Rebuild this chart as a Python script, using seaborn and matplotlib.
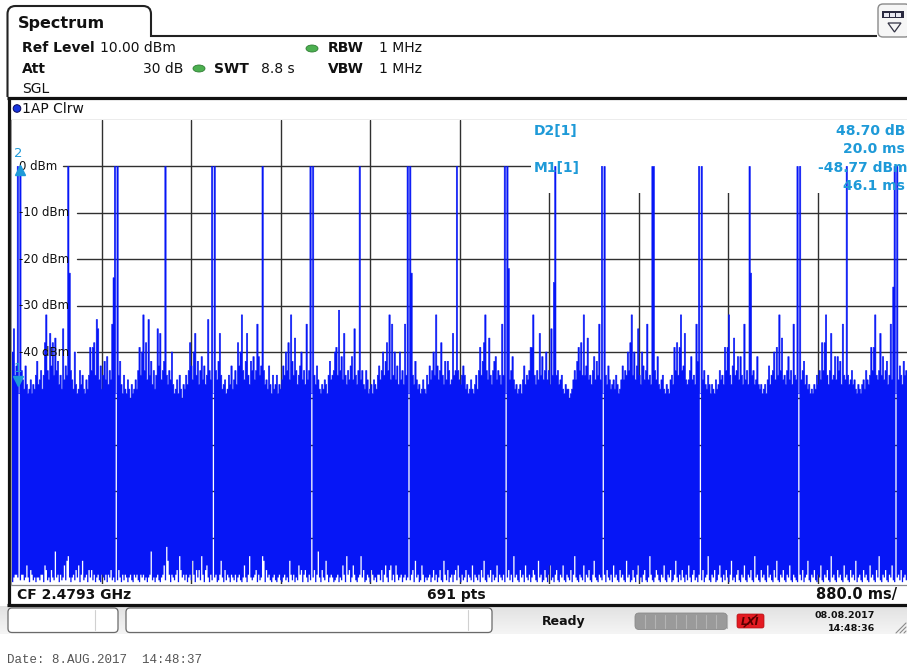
import numpy as np
import pandas as pd
import matplotlib
matplotlib.use("Agg")
import matplotlib.pyplot as plt
import seaborn as sns
from matplotlib.patches import Rectangle, FancyBboxPatch, Ellipse, Circle, PathPatch, Polygon
from matplotlib.path import Path
from matplotlib.transforms import ScaledTranslation, blended_transform_factory
from matplotlib.colors import LinearSegmentedColormap

# ---------------- data ----------------
SWEEP_MS = 8800          # SWT 8.8 s
N_PTS = 691
REF_LEVEL = 10           # dBm, top of the grid
BOTTOM_LEVEL = -90       # dBm, bottom of the grid
X_DIV_MS = 880           # 880.0 ms/div
grid_levels = [0, -10, -20, -30, -40, -50, -60, -70, -80]
tick_levels = [0, -10, -20, -30, -40]
tick_labels = ["0 dBm", "-10 dBm", "-20 dBm", "-30 dBm", "-40 dBm"]

# auto-peak trace: max and min level of each of the 691 sweep points (dBm)
trace_max = [
 -40,-35,-45,-43,0,-49,0,-44,-46,-48,-43,-47,-49,-48,-46,-49,-47,-48,-45,-42,
 -47,-46,-44,-48,-45,-38,-32,-44,-46,-36,-43,-38,-45,-37,-44,-42,-47,-45,-48,-35,
 -46,-43,-45,0,-23,-44,-46,-48,-40,-47,-49,-48,-44,-47,-45,-48,-49,-46,-48,-45,
 -39,-44,-39,-38,-45,-33,-35,-46,-43,-48,-45,-42,-46,-41,-47,-44,-46,-34,-24,0,
 -49,0,-45,-42,-47,-49,-45,-48,-49,-46,-48,-50,-47,-49,-48,-46,-48,-44,-39,-45,
 -40,-32,-44,-38,-46,-33,-45,-42,-47,-44,-48,-45,-35,-43,-36,-46,-44,-42,0,-45,
 -47,-44,-46,-40,-47,-49,-48,-46,-49,-45,-48,-50,-47,-48,-45,-47,-44,-38,-43,-46,
 -40,-36,-45,-42,-47,-44,-41,-46,-43,-47,-45,-33,-44,-46,0,-49,0,-44,-46,-42,
 -36,-45,-48,-47,-46,-49,-48,-45,-47,-43,-48,-46,-44,-47,-38,-43,-40,-32,-44,-46,
 -42,-36,-45,-47,-42,-44,-41,-46,-44,-34,-41,-45,-43,0,-44,-47,-46,-48,-43,-47,
 -49,-45,-48,-47,-45,-49,-47,-48,-46,-43,-45,-40,-44,-38,-46,-32,-42,-45,-37,-44,
 -47,-45,-43,-40,-46,-44,-47,-34,-46,-44,0,-49,0,-45,-47,-43,-46,-48,-49,-47,
 -48,-46,-47,-49,-45,-42,-46,-45,-44,-40,-39,-45,-31,-44,-41,-46,-36,-45,-47,-44,
 -46,-43,-41,-46,-35,-45,-47,-44,0,-46,-44,-47,-48,-44,-46,-49,-48,-47,-49,-46,
 -47,-48,-45,-43,-46,-44,-40,-45,-42,-38,-44,-32,-46,-34,-45,-40,-46,-43,-47,-40,
 -46,-44,-47,-34,-45,0,-49,0,-23,-45,-47,-42,-46,-48,-47,-49,-48,-46,-48,-49,
 -45,-47,-43,-46,-44,-40,-45,-32,-43,-46,-44,-38,-45,-47,-42,-46,-42,-44,-47,-46,
 -36,-45,-44,0,-44,-46,-47,-45,-43,-45,-48,-47,-49,-48,-46,-48,-49,-47,-45,-48,
 -44,-39,-45,-42,-38,-32,-44,-46,-37,-45,-47,-44,-42,-41,-46,-44,-45,-47,-34,-45,
 0,-49,0,-22,-46,-44,-41,-46,-48,-47,-49,-48,-47,-49,-46,-43,-47,-45,-46,-44,
 -39,-39,-32,-45,-47,-44,-46,-36,-45,-41,-46,-44,-40,-46,-44,-47,-35,-45,-25,0,
 -45,-44,-47,-46,-45,-48,-49,-47,-48,-48,-50,-49,-48,-46,-44,-46,-42,-39,-44,-38,
 -45,-32,-45,-43,-37,-46,-45,-47,-44,-41,-46,-42,-45,-34,-46,0,-49,0,-45,-47,
 -43,-46,-48,-47,-46,-48,-45,-47,-49,-48,-46,-43,-46,-44,-45,-40,-44,-38,-32,-45,
 -40,-46,-43,-35,-45,-47,-40,-43,-46,-44,-34,-46,-45,-47,0,0,-44,-46,-41,-47,
 -48,-46,-45,-48,-49,-47,-48,-49,-46,-45,-47,-39,-44,-38,-45,-39,-32,-44,-43,-36,
 -46,-47,-46,-44,-41,-46,-45,-47,-34,-42,0,-49,0,-46,-44,-47,-48,-45,-47,-49,
 -47,-48,-49,-46,-48,-47,-44,-46,-45,-47,-39,-44,-39,-32,-45,-47,-43,-37,-45,-44,
 -41,-46,-41,-45,-47,-34,-46,-44,-47,0,-23,-45,-44,-47,-46,-41,-47,-48,-47,-49,
 -48,-47,-49,-46,-43,-47,-45,-44,-40,-46,-39,-45,-32,-44,-37,-46,-45,-47,-44,-41,
 -46,-44,-47,-34,-45,-46,0,-49,0,-46,-44,-42,-47,-45,-48,-47,-49,-48,-49,-47,
 -48,-45,-47,-44,-46,-38,-44,-38,-32,-45,-47,-44,-36,-46,-45,-41,-46,-41,-44,-42,
 -47,-34,-45,-46,0,-45,-47,-46,-44,-47,-46,-48,-49,-47,-48,-49,-47,-46,-48,-44,
 -46,-47,-45,-39,-44,-39,-32,-45,-46,-44,-36,-45,-41,-46,-44,-42,-47,-45,-34,-46,
 -26,0,-49,0,-46,-43,-45,-47,-42,-45,-44,
]
trace_min = [
 -89.6,-88.6,-88,-88,-88.6,-49,-89.2,-88,-88,-89.2,-88.6,-86,-88.6,-89.6,-87,-88,-89.2,-88.6,-89.6,-88.6,
 -88.6,-89.2,-88,-88,-89.6,-86,-87,-89.2,-88.6,-89.6,-87,-88.6,-89.2,-83,-88.6,-88,-89.6,-88,-89.2,-88.6,
 -86,-89.2,-85,-84,-88.6,-89.6,-88.6,-88,-89.2,-87,-88.6,-86,-89.6,-88,-85,-89.2,-88.6,-88,-89.6,-87,
 -88.6,-87,-89.2,-88,-89.6,-88.6,-88,-89.2,-89.6,-88,-88.6,-89.2,-88,-89.6,-88,-88.6,-87,-89.2,-88.6,-89.6,
 -49,-89.2,-87,-88.6,-89.6,-88,-89.2,-88,-88.6,-89.6,-88.6,-88,-89.2,-89.6,-88,-88.6,-88,-89.2,-89.6,-88,
 -88.6,-88,-89.2,-88.6,-89.6,-88.6,-88,-83,-89.2,-88.6,-89.6,-88.6,-88,-89.2,-89.6,-88.6,-88,-86,-89.2,-82,
 -85,-88,-89.6,-88,-88.6,-89.2,-88,-87,-89.6,-84,-87,-88.6,-88,-89.2,-88,-89.6,-88.6,-88,-89.2,-85,
 -88,-89.6,-87,-88.6,-87,-89.2,-84,-88,-89.6,-87,-86,-88.6,-89.6,-88,-89.2,-49,-88.6,-88,-89.6,-89.2,
 -88,-85,-88.6,-89.6,-87,-89.2,-88,-88.6,-89.6,-88,-88.6,-89.2,-88,-89.6,-88.6,-88,-89.2,-89.6,-88.6,-86,
 -88.6,-89.6,-88,-84,-88.6,-89.2,-88.6,-88,-87,-89.6,-88,-89.2,-88.6,-84,-85,-89.6,-87,-88.6,-88,-89.2,
 -89.6,-88.6,-88,-89.2,-89.6,-88.6,-88,-89.2,-89.6,-88.6,-88,-89.2,-88.6,-89.6,-85,-88,-89.2,-88,-89.6,-88.6,
 -89.2,-86,-88,-87,-89.6,-88,-87,-88.6,-89.6,-88,-89.2,-49,-88.6,-87,-89.6,-88,-83,-88.6,-89.6,-87,
 -88.6,-89.2,-85,-88,-89.6,-88.6,-88,-88.6,-89.6,-89.2,-88.6,-88,-89.6,-88.6,-89.2,-86,-88,-89.6,-84,-88,
 -87,-89.6,-88.6,-86,-88,-89.2,-89.6,-88.6,-88,-84,-88.6,-87,-89.6,-89.2,-88,-88.6,-89.6,-87,-88,-89.2,
 -88.6,-89.6,-88,-88,-89.2,-87,-89.6,-88,-86,-88.6,-89.6,-87,-86,-89.2,-88,-89.6,-86,-88,-89.2,-88.6,
 -88,-89.6,-88.6,-88,-89.2,-88.6,-49,-89.2,-88,-87,-89.6,-85,-88.6,-88,-89.6,-89.2,-86,-88,-89.6,-88.6,
 -89.2,-88.6,-88,-89.6,-88.6,-87,-89.2,-88,-89.6,-88.6,-87,-89.2,-89.6,-85,-88,-89.2,-87,-89.6,-88.6,-88,
 -89.6,-88,-87,-89.2,-86,-88.6,-89.6,-88,-89.2,-88.6,-87,-89.6,-88,-88.6,-89.2,-86,-89.6,-88,-88.6,-89.2,
 -88,-89.6,-87,-88.6,-85,-89.2,-89.6,-88,-88.6,-87,-89.6,-88,-89.2,-88.6,-86,-89.6,-88,-88.6,-89.2,-88,
 -89.6,-49,-88.6,-87,-89.2,-88,-89.6,-84,-88.6,-88,-89.2,-89.6,-87,-88.6,-88,-89.6,-86,-88.6,-89.2,-88,
 -89.6,-88.6,-87,-88,-89.2,-89.6,-85,-88.6,-88,-89.6,-89.2,-87,-88.6,-89.6,-88,-86,-89.2,-88.6,-89.6,-88,
 -87,-89.2,-89.6,-88,-88.6,-86,-89.2,-89.6,-88,-88.6,-89.2,-87,-89.6,-88,-84,-88.6,-89.2,-89.6,-88,-88.6,
 -89.2,-86,-89.6,-88,-88.6,-87,-89.2,-89.6,-88,-85,-88.6,-89.2,-89.6,-88,-88.6,-89.2,-49,-88,-89.6,-87,
 -88.6,-89.2,-88,-89.6,-86,-88.6,-88,-89.2,-89.6,-87,-88.6,-88,-89.2,-89.6,-85,-88.6,-88,-89.6,-89.2,-87,
 -88.6,-89.6,-88,-86,-89.2,-88.6,-89.6,-88,-87,-89.2,-89.6,-88.6,-84,-88,-89.2,-89.6,-88.6,-87,-88,-89.2,
 -89.6,-88,-88.6,-86,-89.2,-89.6,-88,-88.6,-87,-89.6,-89.2,-88,-85,-88.6,-89.6,-88,-89.2,-87,-88.6,-89.6,
 -88,-89.2,-86,-88.6,-89.6,-88,-87,-89.2,-88.6,-89.6,-88,-49,-89.2,-87,-89.6,-88.6,-88,-84,-89.2,-89.6,
 -88,-88.6,-87,-89.6,-89.2,-88,-86,-88.6,-89.6,-88,-89.2,-87,-88.6,-89.6,-88,-85,-89.2,-88.6,-89.6,-88,
 -87,-89.2,-89.6,-88,-88.6,-86,-89.2,-89.6,-88,-88.6,-87,-89.2,-89.6,-84,-88.6,-88,-89.2,-89.6,-87,-88.6,
 -88,-89.2,-89.6,-86,-88.6,-88,-89.2,-89.6,-87,-88.6,-85,-89.2,-89.6,-88,-88.6,-87,-89.2,-89.6,-88,-88.6,
 -86,-89.2,-89.6,-88,-88.6,-89.2,-89.6,-49,-88,-89.2,-87,-89.6,-88.6,-88,-85,-89.2,-89.6,-88,-88.6,-87,
 -89.2,-89.6,-88,-88.6,-86,-89.2,-89.6,-88,-88.6,-87,-89.2,-89.6,-84,-88.6,-88,-89.2,-89.6,-87,-88.6,-88,
 -89.2,-89.6,-86,-88.6,-88,-89.2,-89.6,-87,-88.6,-88,-89.2,-85,-89.6,-88.6,-88,-89.2,-89.6,-87,-88.6,-88,
 -89.2,-89.6,-86,-88.6,-88,-89.2,-89.6,-87,-88.6,-84,-89.2,-89.6,-88,-88.6,-87,-89.2,-89.6,-88,-88.6,-86,
 -89.2,-89.6,-49,-88.6,-88,-89.2,-87,-89.6,-88.6,-88,-89.2,
]

# markers: M1 (absolute) and D2 (delta to M1)
marker_names = ["1", "2"]
marker_t_ms = [46.1, 66.1]
marker_dbm = [-48.77, -0.07]
marker_shape = ["v", "^"]

# ---------------- figure ----------------
W, H, DPI = 907, 669, 100
BLUE = "#0616f6"
MBLUE = "#1e9ad8"
GRID = "#303030"

sns.set_theme(style="white")
plt.rcParams["font.family"] = ["DejaVu Sans"]

fig = plt.figure(figsize=(W / DPI, H / DPI), dpi=DPI, facecolor="white")


def T(x, yc, s, size=10, weight="normal", color="#111111", ha="left", family=None, **kw):
    yb = yc + 0.365 * size * DPI / 72.0
    kws = dict(fontsize=size, fontweight=weight, color=color, ha=ha, va="baseline")
    if family:
        kws["family"] = family
    kws.update(kw)
    return fig.text(x / W, 1 - yb / H, s, **kws)


# decoration axes in pixel coordinates
axd = fig.add_axes([0, 0, 1, 1], zorder=0)
axd.set_axis_off()

# status bar gradient
grad = np.linspace(0, 1, 40).reshape(-1, 1)
cm = LinearSegmentedColormap.from_list("sb", ["#e2e2e2", "#f5f5f5"])
axd.imshow(grad, cmap=cm, extent=[0, W, 634, 606], aspect="auto", zorder=0)
axd.set_xlim(0, W)
axd.set_ylim(H, 0)

# tab outline
verts = [(7.5, 97), (7.5, 14), (7.5, 6), (15.5, 6), (143, 6), (151, 6), (151, 14), (151, 36), (877, 36)]
codes = [Path.MOVETO, Path.LINETO, Path.CURVE3, Path.CURVE3, Path.LINETO, Path.CURVE3, Path.CURVE3,
         Path.LINETO, Path.LINETO]
axd.add_patch(PathPatch(Path(verts, codes), fill=False, lw=1.5, edgecolor="#222222", zorder=2))

# top-right button
axd.add_patch(FancyBboxPatch((878, 4), 32, 33, boxstyle="round,pad=0,rounding_size=5",
                             facecolor="#f6f6f6", edgecolor="#8a8a8a", lw=1.0, zorder=2))
axd.add_patch(Rectangle((882, 11), 22, 7, facecolor="#2a2a40", edgecolor="none", zorder=3))
for sx in (884, 890, 896):
    axd.add_patch(Rectangle((sx, 12.5), 4.5, 4, facecolor="#e8e8f0", edgecolor="none", zorder=4))
axd.add_patch(Polygon([(888, 23), (901, 23), (894.5, 32)], closed=True, fill=False,
                      edgecolor="#333344", lw=0.9, zorder=3))

# panel borders
axd.plot([7, W], [97.5, 97.5], color="#111111", lw=2.3, solid_capstyle="butt", zorder=3)
axd.plot([8.5, 8.5], [97, 606], color="#111111", lw=2.3, solid_capstyle="butt", zorder=3)
axd.plot([7, W], [605, 605], color="#111111", lw=2.3, solid_capstyle="butt", zorder=3)
axd.plot([10.5, W], [119.5, 119.5], color="#6e6e6e", lw=0.9, zorder=3)
axd.plot([10.5, W], [585, 585], color="#8a8a8a", lw=0.9, zorder=3)
axd.plot([11, 11], [119.5, 585], color="#9a9a9a", lw=0.9, zorder=3)

# header items
T(18, 22, "Spectrum", size=11.5, weight="bold")
T(22, 47, "Ref Level", size=10, weight="bold")
T(100, 47, "10.00 dBm", size=10)
T(22, 68, "Att", size=10, weight="bold")
T(183, 68, "30 dB", size=10, ha="right")
T(214, 68, "SWT", size=10, weight="bold")
T(261, 68, "8.8 s", size=10)
T(328, 47, "RBW", size=10, weight="bold")
T(379, 47, "1 MHz", size=10)
T(328, 68, "VBW", size=10, weight="bold")
T(379, 68, "1 MHz", size=10)
T(22, 88, "SGL", size=10)
for (cx, cy) in ((199, 68.5), (312, 48.5)):
    axd.add_patch(Ellipse((cx, cy), 12, 7, facecolor="#4cb050", edgecolor="#2f7d34", lw=0.6, zorder=3))
axd.add_patch(Circle((17, 108.5), 3.8, facecolor="#1634e0", edgecolor="#0a0a60", lw=0.7, zorder=3))
T(22, 108, "1AP Clrw", size=10)

# CF row
T(17, 594, "CF 2.4793 GHz", size=10, weight="bold")
T(427, 594, "691 pts", size=10, weight="bold")
T(897, 594, "880.0 ms/", size=10.5, weight="bold", ha="right")

# status bar
for (x0, x1, div) in ((8, 118, 95), (126, 492, 468)):
    axd.add_patch(FancyBboxPatch((x0, 608), x1 - x0, 24.5, boxstyle="round,pad=0,rounding_size=4",
                                 facecolor="white", edgecolor="#6a6a6a", lw=0.9, zorder=2))
    axd.plot([div, div], [610, 630], color="#d0d0d0", lw=0.8, zorder=3)
T(542, 620, "Ready", size=9, weight="bold")
axd.add_patch(FancyBboxPatch((635, 613), 92, 16.5, boxstyle="round,pad=0,rounding_size=4",
                             facecolor="#9a9a9a", edgecolor="#8a8a8a", lw=0.6, zorder=2))
for sx in np.arange(645, 727, 10.2):
    axd.plot([sx, sx], [615, 627.5], color="#b4b4b4", lw=0.8, zorder=3)
axd.add_patch(FancyBboxPatch((737, 614), 27, 14, boxstyle="round,pad=0,rounding_size=2",
                             facecolor="#e41b22", edgecolor="#b01015", lw=0.5, zorder=2))
T(750.5, 621, "LXI", size=7.5, weight="bold", color="#5a0000", ha="center", style="italic")
axd.plot([744, 757], [627, 615], color="#5a0000", lw=1.0, zorder=4)
T(875, 614.5, "08.08.2017", size=6.8, weight="bold", ha="right")
T(875, 628, "14:48:36", size=6.8, weight="bold", ha="right")
for k in range(3):
    axd.plot([896 + 4 * k, 906], [633, 623 + 4 * k], color="#8a8a8a", lw=0.8, zorder=3)

T(7, 658, "Date: 8.AUG.2017  14:48:37", size=9, color="#555555", family="Liberation Mono")

# ---------------- main diagram ----------------
ax = fig.add_axes([12 / W, 1 - 584 / H, 895 / W, 464 / H], zorder=1)
ax.set_facecolor("white")
ax.set_xlim(0, SWEEP_MS)
ax.set_ylim(BOTTOM_LEVEL, REF_LEVEL)
for sp in ax.spines.values():
    sp.set_visible(False)

# grid
for k in range(1, 10):
    ax.axvline(k * X_DIV_MS, color=GRID, lw=1.0, zorder=1)
for lev in grid_levels:
    start = (63 - 12) / 895 if lev == 0 else (77 - 12) / 895
    ax.axhline(lev, xmin=start, xmax=1, color=GRID, lw=1.0, zorder=1)

# marker-table area hides the grid (not the trace)
ax.add_patch(Rectangle(((531 - 12) / 895, (584 - 193) / 464), 1, 1, transform=ax.transAxes,
                       facecolor="white", edgecolor="none", zorder=1.5))

# trace (auto peak detector: each sweep point spans its min..max level)
n = len(trace_max)
edges = np.arange(n + 1) * SWEEP_MS / N_PTS
lo = np.append(trace_min, trace_min[-1])
hi = np.append(trace_max, trace_max[-1])
ax.fill_between(edges, lo, hi, step="post", facecolor=BLUE, edgecolor="none",
                linewidth=0, zorder=2)
df = pd.DataFrame({"t": edges, "dbm": hi})
sns.lineplot(data=df, x="t", y="dbm", estimator=None, sort=False, drawstyle="steps-post",
             color=BLUE, lw=0.4, legend=False, ax=ax, zorder=2.1)
ax.set_xlabel("")
ax.set_ylabel("")
ax.set_xticks([])
ax.set_yticks([])
ax.set_xlim(0, SWEEP_MS)
ax.set_ylim(BOTTOM_LEVEL, REF_LEVEL)

# level labels
btr = blended_transform_factory(ax.transAxes, ax.transData)
for lev, lab in zip(tick_levels, tick_labels):
    ax.text(7 / 895, lev, lab, transform=btr, fontsize=8.5, color="#111111",
            ha="left", va="center", zorder=4)

# markers
for name, t, v, shp in zip(marker_names, marker_t_ms, marker_dbm, marker_shape):
    if shp == "^":
        tri_off, txt_off, dx = -3, 13, 0
    else:
        tri_off, txt_off, dx = 12, 24, 1
    tr = ax.transData + ScaledTranslation(1 / DPI, tri_off / DPI, fig.dpi_scale_trans)
    ax.plot([t], [v], marker=shp, markersize=7, color=MBLUE, transform=tr, zorder=5, clip_on=False)
    ax.annotate(name, (t, v), xytext=(dx, txt_off), textcoords="offset pixels",
                fontsize=9.5, color=MBLUE, ha="center", va="center", zorder=5)

# marker table
T(534, 130, "D2[1]", size=10, weight="bold", color=MBLUE)
T(905, 130, "48.70 dB", size=10, weight="bold", color=MBLUE, ha="right")
T(905, 148, "20.0 ms", size=10, weight="bold", color=MBLUE, ha="right")
T(534, 167, "M1[1]", size=10, weight="bold", color=MBLUE)
T(907, 167, "-48.77 dBm", size=10, weight="bold", color=MBLUE, ha="right")
T(905, 185, "46.1 ms", size=10, weight="bold", color=MBLUE, ha="right")

fig.savefig("out.png", dpi=DPI, facecolor="white")
